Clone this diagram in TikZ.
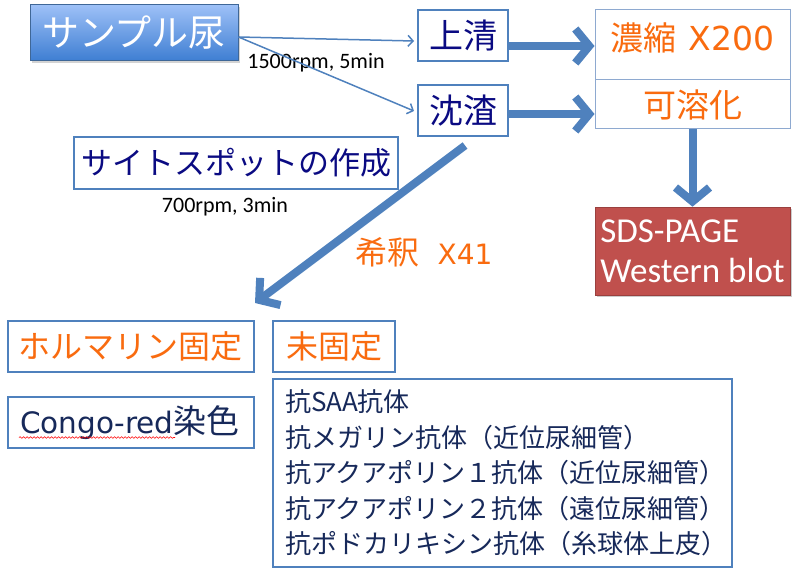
\documentclass[tikz,border=0pt]{standalone}
\usepackage{fontspec}
\setmainfont{Carlito}
\newfontfamily\jp{Noto Sans CJK JP}
\newfontfamily\lat{DejaVu Sans}
\usetikzlibrary{arrows.meta,shadows,decorations.pathmorphing,calc}
\definecolor{boxblue}{HTML}{4F81BD}
\definecolor{lightbox}{HTML}{8EA9D0}
\definecolor{navy}{HTML}{0A0A82}
\definecolor{listnavy}{HTML}{17295A}
\definecolor{orng}{HTML}{F96B0F}
\definecolor{redbox}{HTML}{C0504D}
\definecolor{gradtop}{HTML}{9DC0F7}
\definecolor{gradbot}{HTML}{3E7ED2}
\begin{document}
\begin{tikzpicture}[x=1pt,y=-1pt,
  box/.style={draw=boxblue, line width=2pt, fill=white, inner sep=0pt, align=center},
  lbox/.style={draw=lightbox, line width=1pt, fill=white, inner sep=0pt},
  thinarr/.style={draw=boxblue, line width=1.5pt, -{Straight Barb[length=5pt,width=11pt]}},
  thickarr/.style={draw=boxblue, line width=8pt, -{Straight Barb[length=14pt,width=34pt]}},
  navytxt/.style={text=navy, font=\jp\fontsize{34}{38}\selectfont},
  orangetxt/.style={text=orng, font=\jp\fontsize{32}{36}\selectfont},
  smalltxt/.style={text=black, font=\fontsize{22}{25}\selectfont, inner sep=0pt}
]
\useasboundingbox (0,0) rectangle (795,569);

% top row
\node[box, draw=boxblue!80!black, line width=1pt, top color=gradtop, bottom color=gradbot,
      drop shadow={shadow xshift=2pt, shadow yshift=-2pt, opacity=0.35},
      minimum width=208pt, minimum height=56pt, text=white,
      font=\jp\fontsize{37}{40}\selectfont] (sample) at (134,33) {サンプル尿};
\node[box, navytxt, minimum width=90pt, minimum height=51pt] (ue) at (463,36) {上清};
\node[box, navytxt, minimum width=90pt, minimum height=51pt] (chin) at (463,111) {沈渣};

\node[lbox, minimum width=195pt, minimum height=70pt] (noshuku) at (692.5,45) {};
\node[orangetxt, font=\jp\fontsize{33}{36}\selectfont, inner sep=0pt] (noshukutxt) at ([yshift=7pt]noshuku.center)
  {濃縮\hspace{12pt}{\lat\fontsize{33}{36}\selectfont X200}};
\node[lbox, orangetxt, font=\jp\fontsize{33}{36}\selectfont, minimum width=195pt, minimum height=49pt] (kayou) at (692.5,104.5) {可溶化};

\node[fill=redbox, draw=redbox!80!black, line width=0.6pt,
      drop shadow={shadow xshift=2pt, shadow yshift=-2pt, opacity=0.4},
      text=white, align=left, inner sep=0pt, minimum width=195pt,
      minimum height=88pt, font=\fontsize{35}{40}\selectfont] (sds) at (692.5,251)
      {SDS-PAGE\\Western blot};

\node[box, navytxt, font=\jp\fontsize{31}{36}\selectfont, minimum width=324pt, minimum height=52pt] (saito) at (236,163) {サイトスポットの作成};

\node[smalltxt] (rpm1) at (316,63) {1500rpm, 5min};
\node[smalltxt] (rpm2) at (225,207) {700rpm, 3min};
\node[text=orng, font=\jp\fontsize{32}{34}\selectfont, inner sep=0pt] (kishaku) at (424,252)
  {希釈\hspace{18pt}{\lat\fontsize{28}{34}\selectfont X41}};

% bottom
\node[box, orangetxt, minimum width=246pt, minimum height=51pt] (formalin) at (131,346.5) {ホルマリン固定};
\node[box, orangetxt, minimum width=122pt, minimum height=51pt] (mikotei) at (334,346.5) {未固定};
\node[box, text=listnavy, font=\jp\fontsize{33}{36}\selectfont, text width=222pt, inner xsep=12pt, align=left,
      minimum height=51pt] (congo) at (131,422.5) {{\lat\fontsize{29.5}{36}\selectfont Congo-red}染色};
\draw[red, line width=0.6pt, decorate, decoration={snake, amplitude=0.8pt, segment length=3.5pt}]
  ([xshift=12pt,yshift=-15pt]congo.west) -- ([xshift=168pt,yshift=-15pt]congo.west);

\node[box, text=listnavy, font=\jp\fontsize{26}{35.4}\selectfont, text width=435pt, inner xsep=12pt,
      align=left, minimum height=188pt] (list) at (502.5,473)
  {抗SAA抗体\\抗メガリン抗体（近位尿細管）\\抗アクアポリン１抗体（近位尿細管）\\抗アクアポリン２抗体（遠位尿細管）\\抗ポドカリキシン抗体（糸球体上皮）};

% connectors
\draw[thinarr] ([yshift=-4pt]sample.east) -- ([xshift=-3pt,yshift=-5pt]ue.west);
\draw[thinarr] ([yshift=-4pt]sample.east) -- ([xshift=-3pt]chin.west);
\draw[thickarr] ([yshift=-10pt]ue.east) -- ([yshift=-10pt]ue.east -| noshuku.west);
\draw[thickarr] ([yshift=-3pt]chin.east) -- ([yshift=-3pt]chin.east -| kayou.west);
\draw[thickarr] (kayou.south) -- (sds.north);
\coordinate (diagend) at (255,303);
\draw[thickarr] ([xshift=2pt,yshift=-8pt]chin.south) -- (diagend);
\end{tikzpicture}
\end{document}
